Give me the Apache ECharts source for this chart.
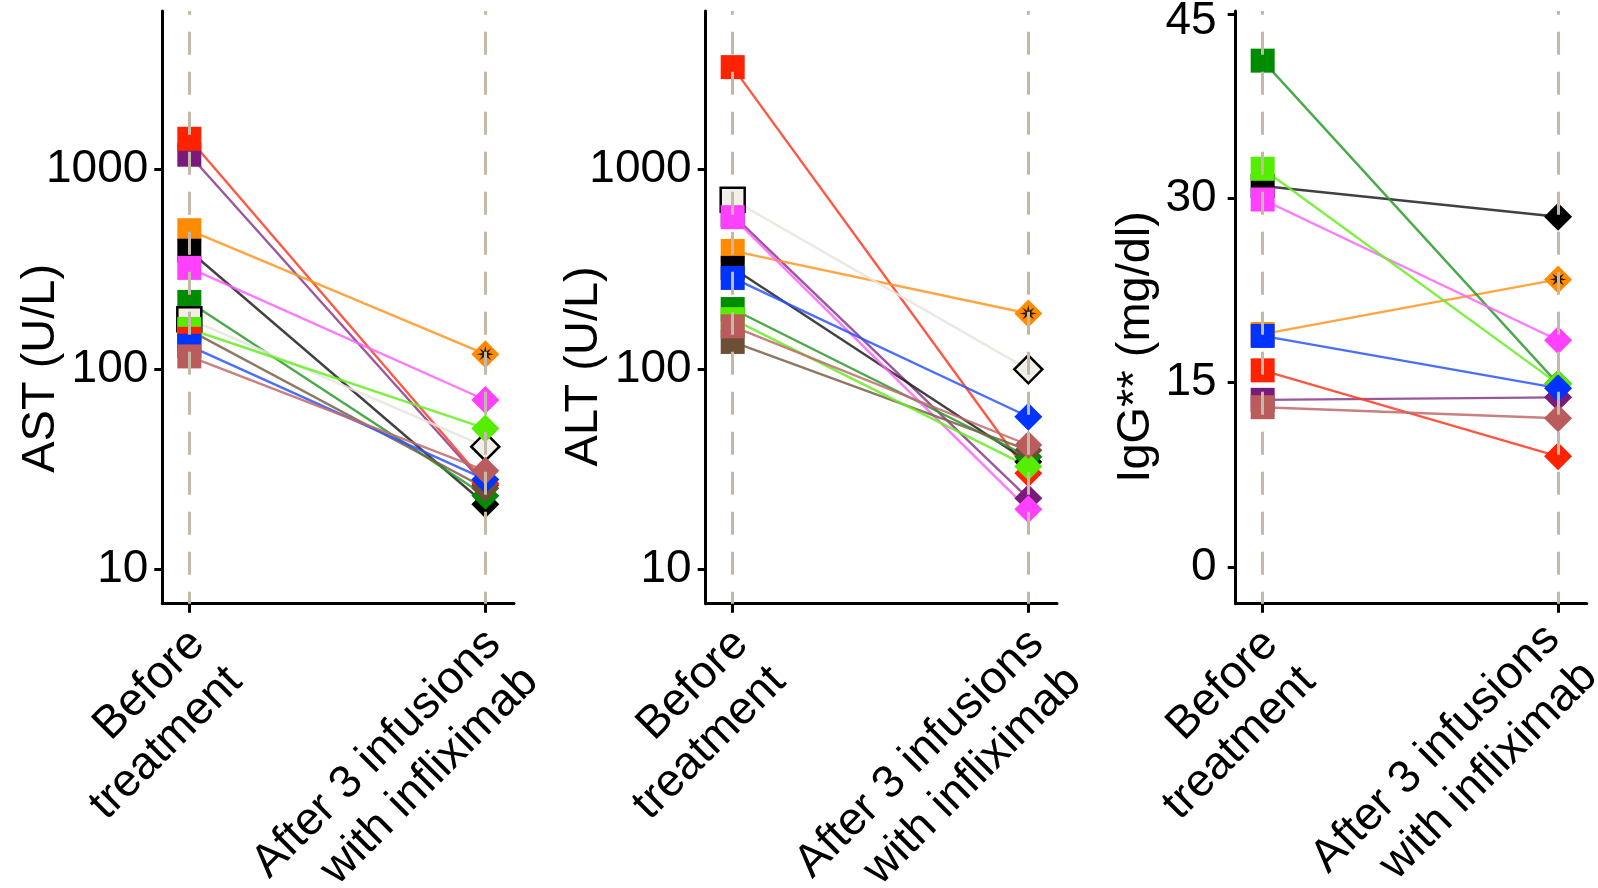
<!DOCTYPE html>
<html><head><meta charset="utf-8">
<script src="https://cdn.jsdelivr.net/npm/echarts@6/dist/echarts.min.js"></script>
<style>html,body{margin:0;padding:0;background:#fff}#c{width:1598px;height:888px}</style>
</head><body><div id="c"></div>
<script>
// ---- data ----
const categories = ['Before\ntreatment', 'After 3 infusions\nwith infliximab'];
const patients = ['purple','red','orange','black','darkgreen','open','magenta','brown','lightgreen','red2','blue','rosy'];
const markerColors = ['#7a1a7a','#ff2200','#ff8c00','#000000','#008c00','#f2efe8','#ff40ff','#6b5035','#55ee00','#ff2200','#0033ff','#bb5c5c'];
const lineColors   = ['#8a3a8a','#ff3a20','#ff9520','#202020','#2a9a2a','#e6e4dc','#ff60ff','#7a6048','#66ee22','#ff3a20','#2a55ff','#c06a6a'];
const astBefore = [1179, 1416, 495, 391, 217, 178, 321, 157, 159, 142, 131, 116];
const astAfter  = [26.4, 27.0, 119, 21.2, 23.4, 41.1, 70.3, 25.5, 50.7, null, 28.2, 31.2];
const altBefore = [590, 3227, 390, 321, 200, 703, 575, 137, 178, null, 286, 164];
const altAfter  = [22.7, 30.3, 190, 34.6, 36.6, 100, 20.0, 39.5, 32.7, null, 58, 41.9];
const iggBefore = [13.6, 16.0, 18.95, 31.0, 41.2, null, 29.9, null, 32.4, null, 18.8, 13.0];
const iggAfter  = [13.8, 9.0, 23.4, 28.5, 14.9, null, 18.45, null, 14.9, null, 14.55, 12.1];
const logTicks = [10, 100, 1000];
const iggTicks = [0, 15, 30, 45];
const axisNames = ['AST (U/L)', 'ALT (U/L)', 'IgG** (mg/dl)'];

// ---- layout ----
const FONT = '"Liberation Sans", Arial, Helvetica, sans-serif';
const panels = [
  {left: 162.3, width: 351.7, before: astBefore, after: astAfter, log: true, nameGap: 98, namePad: 122, labelMargin: 14},
  {left: 705.7, width: 351.3, before: altBefore, after: altAfter, log: true, nameGap: 98, namePad: 118, labelMargin: 14},
  {left: 1235.7, width: 351.0, before: iggBefore, after: iggAfter, log: false, nameGap: 76, namePad: 79, labelMargin: 19}
];
const GRID_TOP = 11, GRID_H = 592.7;
const XL = {fontFamily: FONT, fontSize: 46, lineHeight: 53, color: '#000'};

function starPath() {
  let s = 'path://';
  for (let k = 0; k < 16; k++) {
    const a = k * Math.PI / 8;
    const r = (k % 2 === 0) ? 10 : 3.6;
    s += (k === 0 ? 'M' : 'L') + (r * Math.sin(a)).toFixed(2) + ',' + (-r * Math.cos(a)).toFixed(2);
  }
  return s + 'Z';
}

function xLabel(pi) {
  if (pi < 2) {
    return {
      customValues: [0, 1], rotate: 45, align: 'right', verticalAlign: 'top',
      margin: 4, padding: [0, 15, 0, 0], hideOverlap: false,
      formatter: v => categories[Math.round(v)], ...XL
    };
  }
  // last panel: the right-most label is pulled in so it stays inside the figure
  return {
    customValues: [0, 1], rotate: 45, align: 'right', verticalAlign: 'top',
    margin: -14.7, padding: [0, 28.3, 0, 0], hideOverlap: false,
    formatter: v => {
      const lines = categories[Math.round(v)].split('\n');
      return Math.round(v) === 0
        ? '{f|' + lines[0] + '}\n{n|' + lines[1] + '}'
        : '{r|' + lines[0] + '}\n{r|' + lines[1] + '}';
    },
    ...XL,
    rich: {
      f: {...XL, lineHeight: 79.4},
      n: {...XL, lineHeight: 26.6},
      r: {...XL, padding: [0, 6.1, 0, 0]}
    }
  };
}

const grid = [], xAxis = [], yAxis = [], series = [];
panels.forEach((p, pi) => {
  grid.push({left: p.left, top: GRID_TOP, width: p.width, height: GRID_H, containLabel: false, outerBoundsMode: 'none'});
  xAxis.push({
    type: 'value', gridIndex: pi, min: -0.0913, max: 1.097,
    axisLine: {show: true, onZero: false, lineStyle: {color: '#000', width: 3}},
    axisTick: {show: true, customValues: [0, 1], length: 9, lineStyle: {color: '#000', width: 3}},
    splitLine: {show: false},
    axisLabel: xLabel(pi)
  });
  const yCommon = {
    gridIndex: pi,
    name: axisNames[pi], nameLocation: 'middle', nameGap: p.nameGap, nameRotate: 90, nameMoveOverlap: false,
    nameTextStyle: {fontFamily: FONT, fontSize: 47, color: '#000', padding: [0, p.namePad, 0, 0]},
    axisLine: {show: true, onZero: false, lineStyle: {color: '#000', width: 3}},
    splitLine: {show: false}
  };
  if (p.log) {
    yAxis.push(Object.assign({}, yCommon, {
      type: 'log', logBase: 10, min: 6.76, max: 6152,
      axisTick: {show: true, customValues: logTicks, length: 8, lineStyle: {color: '#000', width: 3}},
      minorTick: {show: false},
      axisLabel: {customValues: logTicks, margin: p.labelMargin, formatter: v => String(Math.round(v)),
                  fontFamily: FONT, fontSize: 46, color: '#000'}
    }));
  } else {
    yAxis.push(Object.assign({}, yCommon, {
      type: 'value', min: -2.99, max: 45.24,
      axisTick: {show: true, customValues: iggTicks, length: 8, lineStyle: {color: '#000', width: 3}},
      axisLabel: {customValues: iggTicks, margin: p.labelMargin,
                  formatter: v => (Math.round(v) === 45 ? '{t|45}' : '{n|' + Math.round(v) + '}'),
                  rich: {t: {fontFamily: FONT, fontSize: 46, color: '#000', padding: [15, 0, 0, 0]},
                         n: {fontFamily: FONT, fontSize: 46, color: '#000'}}}
    }));
  }
  // dashed category guides
  series.push({
    type: 'line', xAxisIndex: pi, yAxisIndex: pi, data: [], z: 1, silent: true,
    markLine: {silent: true, symbol: ['none', 'none'], label: {show: false}, animation: false,
      lineStyle: {color: '#c2b9a8', width: 3, type: [23, 17], dashOffset: 11},
      emphasis: {disabled: true},
      data: [{xAxis: 0}, {xAxis: 1}]}
  });
  // patient lines
  patients.forEach((name, i) => {
    const b = p.before[i], a = p.after[i];
    if (b == null) return;
    const pts = [[0, b]];
    if (a != null) pts.push([1, a]);
    series.push({
      type: 'line', name: name + '-line', xAxisIndex: pi, yAxisIndex: pi, z: 2,
      data: pts, showSymbol: false, symbol: 'none', silent: true, animation: false,
      lineStyle: {color: lineColors[i], width: 2.4, opacity: 0.85}
    });
  });
  // patient markers
  patients.forEach((name, i) => {
    const b = p.before[i], a = p.after[i];
    if (b == null) return;
    const open = name === 'open';
    const items = [{value: [0, b], symbol: 'rect', symbolSize: 24}];
    if (a != null) items.push({value: [1, a], symbol: 'diamond', symbolSize: 28});
    series.push({
      type: 'scatter', name: name, xAxisIndex: pi, yAxisIndex: pi, z: 3, silent: true, animation: false,
      data: items,
      itemStyle: {color: markerColors[i], opacity: 1,
                  borderColor: open ? '#000' : markerColors[i], borderWidth: open ? 2.5 : 0}
    });
    if (name === 'orange' && a != null) {
      series.push({
        type: 'scatter', name: 'orange-star', xAxisIndex: pi, yAxisIndex: pi, z: 4, silent: true, animation: false,
        data: [[1, a]], symbol: starPath(), symbolSize: 17,
        itemStyle: {color: '#241400', opacity: 0.95}
      });
    }
  });
});

const chart = echarts.init(document.getElementById('c'), null, {renderer: 'canvas'});
chart.setOption({backgroundColor: '#fff', animation: false, grid, xAxis, yAxis, series});
</script>
</body></html>
